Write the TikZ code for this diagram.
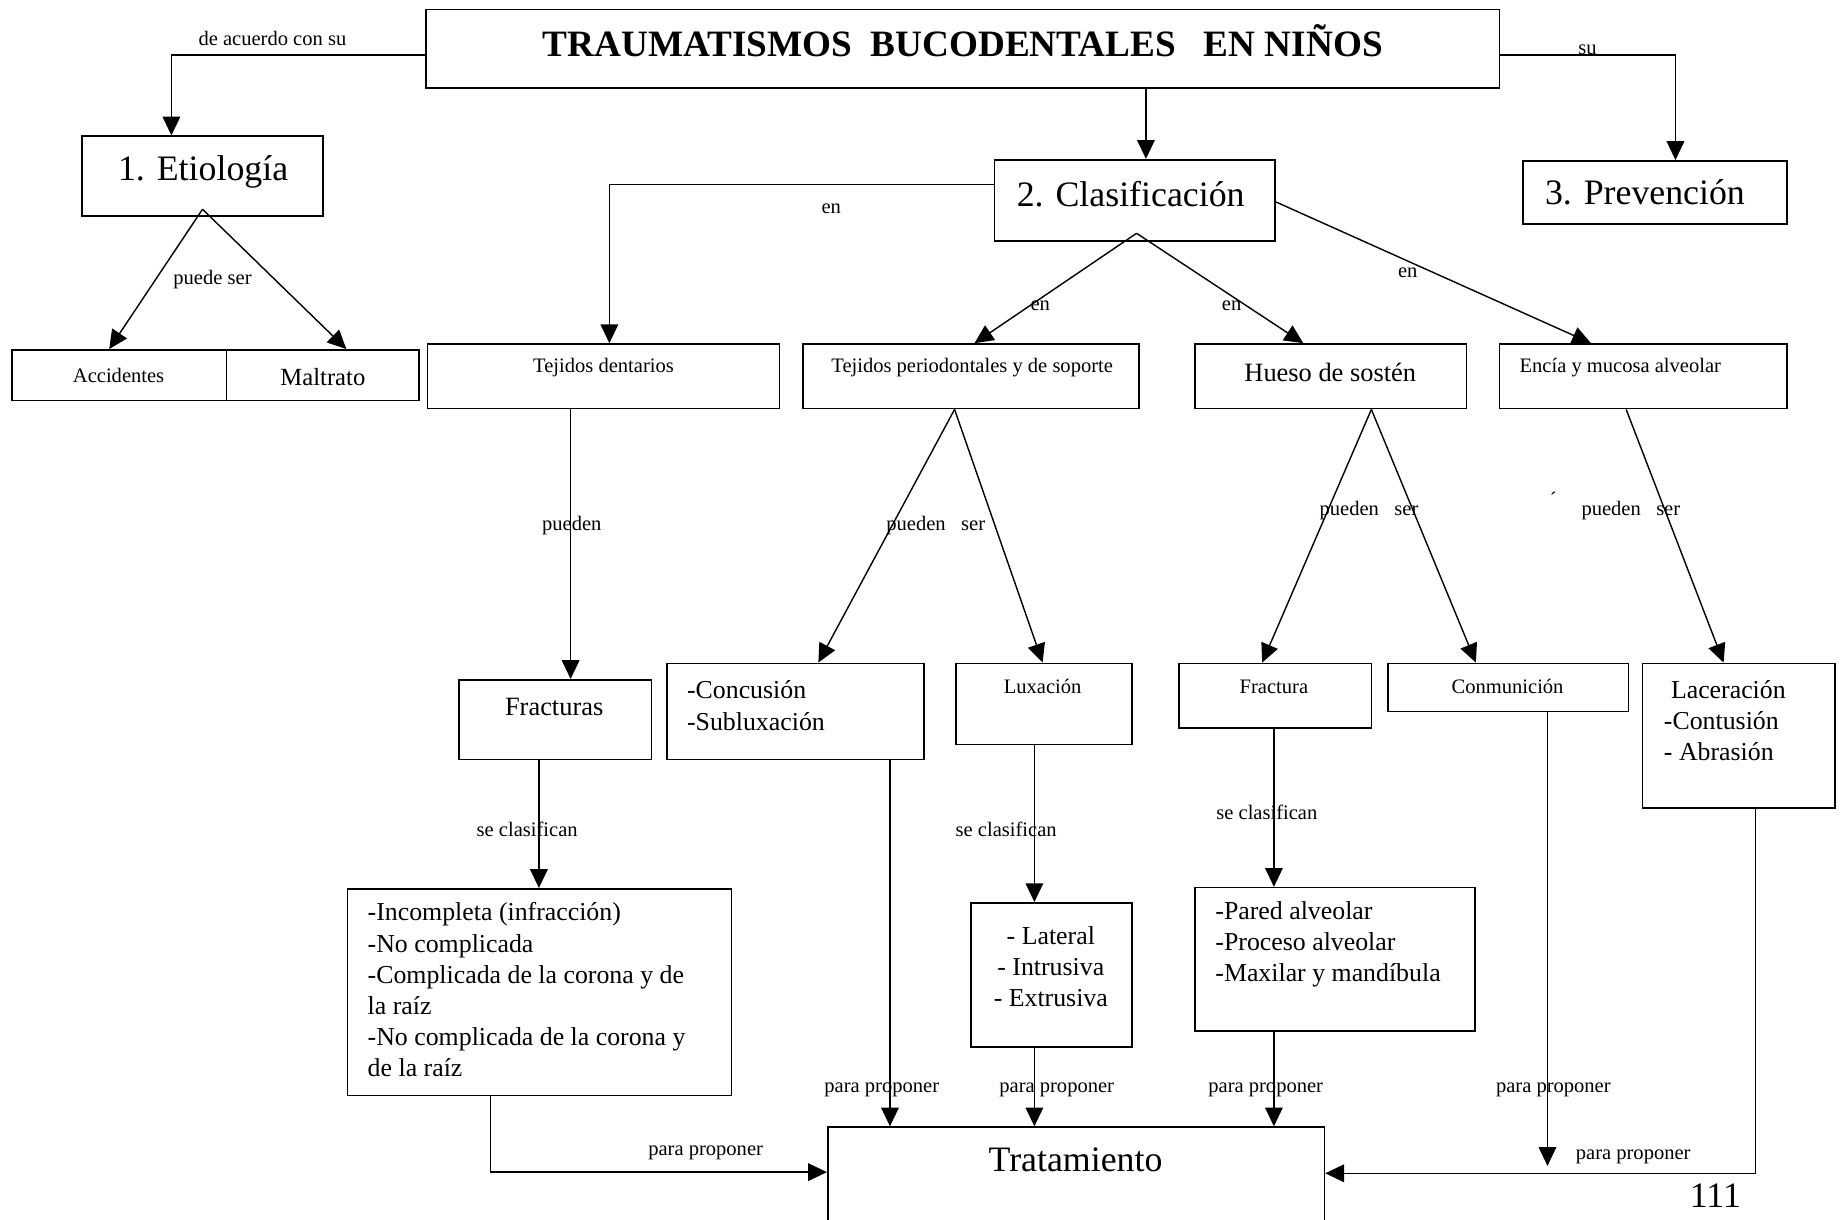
\documentclass[tikz,border=0pt]{standalone}
\usepackage{fontspec}
\setmainfont{Liberation Serif}
\usetikzlibrary{arrows.meta,fit,calc}
\begin{document}
\begin{tikzpicture}[x=1pt,y=-1pt,
  box/.style={draw,line width=1.4pt,inner sep=0pt},
  arr/.style={line width=1.2pt,-{Triangle[length=16pt,width=15pt]}},
  lbl/.style={inner sep=0pt,font=\fontsize{17.5}{20}\selectfont},
  txt/.style={inner sep=0pt,font=\fontsize{22}{26.5}\selectfont,align=left},
  big/.style={inner sep=0pt,font=\fontsize{30.5}{34}\selectfont}]
\useasboundingbox (0,0) rectangle (1568,1039);
\fill[white] (0,0) rectangle (1568,1039);

% boxes
\node[box,fit={(363,8)(1277,75)}] (title) {};
\node[box,fit={(70,116)(275,184)}] (etio) {};
\node[box,fit={(847,136)(1086,205)}] (clas) {};
\node[box,fit={(1297,137)(1522,191)}] (prev) {};
\node[box,fit={(10,298)(193,341)}] (acc) {};
\node[box,fit={(193,298)(357,341)}] (mal) {};
\node[box,fit={(364,293)(664,348)}] (tden) {};
\node[box,fit={(684,293)(970,348)}] (tper) {};
\node[box,fit={(1018,293)(1249,348)}] (hueso) {};
\node[box,fit={(1277,293)(1522,348)}] (encia) {};
\node[box,fit={(391,579)(555,647)}] (fracs) {};
\node[box,fit={(568,565)(787,647)}] (conc) {};
\node[box,fit={(814,565)(964,634)}] (lux) {};
\node[box,fit={(1004,565)(1168,620)}] (frac) {};
\node[box,fit={(1182,565)(1387,606)}] (conm) {};
\node[box,fit={(1399,565)(1563,688)}] (lace) {};
\node[box,fit={(296,757)(623,933)}] (inc) {};
\node[box,fit={(827,769)(964,892)}] (lat) {};
\node[box,fit={(1018,756)(1256,878)}] (pared) {};
\node[box,fit={(705,960)(1128,1060)}] (trat) {};

% box texts
\node[inner sep=0pt,font=\bfseries\fontsize{31.7}{34}\selectfont] (ttitle) at (820,35) {TRAUMATISMOS\ \ BUCODENTALES\ \ \ EN NIÑOS};
\node[big] (tetio) at (173,146) {1. Etiología};
\node[big] (tclas) at (963,165) {2. Clasificación};
\node[big] (tprev) at (1401,164) {3. Prevención};
\node[lbl] (tacc) at (101,320) {Accidentes};
\node[inner sep=0pt,font=\fontsize{21}{24}\selectfont] (tmal) at (275,321) {Maltrato};
\node[lbl] (ttden) at (514,313) {Tejidos dentarios};
\node[lbl] (ttper) at (828,313) {Tejidos periodontales y de soporte};
\node[inner sep=0pt,font=\fontsize{22.5}{26}\selectfont] (thueso) at (1133,317) {Hueso de sostén};
\node[lbl] (tencia) at (1380,313) {Encía y mucosa alveolar};
\node[txt,font=\fontsize{22.5}{26.5}\selectfont] (tfracs) at (472,602) {Fracturas};
\node[txt,anchor=west] (tconc) at (585,601) {-Concusión\\-Subluxación};
\node[lbl] (tlux) at (888,585) {Luxación};
\node[lbl] (tfrac) at (1085,585) {Fractura};
\node[lbl] (tconm) at (1284,585) {Conmunición};
\node[txt,anchor=west] (tlace) at (1417,614) {\hspace{6pt}Laceración\\-Contusión\\- Abrasión};
\node[txt,anchor=west] (tinc) at (313,843) {-Incompleta (infracción)\\-No complicada\\-Complicada de la corona y de\\la raíz\\-No complicada de la corona y\\de la raíz};
\node[txt,align=center] (tlat) at (895,823) {- Lateral\\- Intrusiva\\- Extrusiva};
\node[txt,anchor=west] (tpared) at (1035,804) {-Pared alveolar\\-Proceso alveolar\\-Maxilar y mandíbula};
\node[big] (ttrat) at (916,988) {Tratamiento};
\node[big] (tpage) at (1461,1018) {111};

% connectors
\draw[arr] ([yshift=-5.5pt]title.west) -| (etio.north -| 146,0);
\draw[arr] ([yshift=-5.5pt]title.east) -| (prev.north -| 1427,0);
\draw[arr] (title.south -| 976,0) -- (clas.north -| 976,0);

\coordinate (etiApex) at ([yshift=6.5pt]etio.south);
\draw[arr] (etiApex) -- (acc.north -| 93,0);
\draw[arr] (etiApex) -- (mal.north -| 295,0);

\draw[arr] ([yshift=13.5pt]clas.west) -| (tden.north -| 519,0);
\coordinate (clasApex) at ($(clas.south)+(1.5,-7)$);
\draw[arr] (clasApex) -- (tper.north -| 830,0);
\draw[arr] (clasApex) -- (hueso.north -| 1110,0);
\draw[arr] ($(clas.east)+(0,1.5)$) -- (encia.north -| 1355,0);

\draw[arr] (tden.south -| 486,0) -- (fracs.north -| 486,0);
\draw[arr] (tper.south -| 813,0) -- (conc.north -| 697,0);
\draw[arr] (tper.south -| 813,0) -- (lux.north -| 888,0);
\draw[arr] (hueso.south -| 1168,0) -- (frac.north -| 1075,0);
\draw[arr] (hueso.south -| 1168,0) -- (conm.north -| 1257,0);
\draw[arr] (encia.south -| 1385,0) -- (lace.north -| 1468,0);

\draw[arr] (fracs.south -| 459,0) -- (inc.north -| 459,0);
\draw[arr] (lux.south -| 881,0) -- (lat.north -| 881,0);
\draw[arr] (frac.south -| 1085,0) -- (pared.north -| 1085,0);

\draw[arr] (conc.south -| 758,0) -- (trat.north -| 758,0);
\draw[arr] (lat.south -| 881,0) -- (trat.north -| 881,0);
\draw[arr] (pared.south -| 1085,0) -- (trat.north -| 1085,0);
\draw[arr] (inc.south -| 418,0) |- ($(trat.north west)+(0,39)$);
\draw[arr] (lace.south -| 1495,0) |- ($(trat.north east)+(0,40)$);
\coordinate (conmEnd) at (1318,993);
\draw[arr] (conm.south -| 1318,0) -- (conmEnd);

% connector labels
\node[lbl] (l1) at (232,33) {de acuerdo con su};
\node[lbl] (l2) at (1352,42) {su};
\node[lbl] (l3) at (181,238) {puede ser};
\node[lbl] (l4) at (708,178) {en};
\node[lbl] (l5) at (886,260) {en};
\node[lbl] (l6) at (1049,260) {en};
\node[lbl] (l7) at (1199,232) {en};
\node[lbl] (l8) at (487,448) {pueden};
\node[lbl] (l9) at (797,448) {pueden\ \ \ ser};
\node[lbl] (l10) at (1166,435) {pueden\ \ \ ser};
\node[lbl] (l11) at (1323,425) {´};
\node[lbl] (l12) at (1389,435) {pueden\ \ \ ser};
\node[lbl] (l13) at (449,706) {se clasifican};
\node[lbl] (l14) at (857,706) {se clasifican};
\node[lbl] (l15) at (1079,692) {se clasifican};
\node[lbl] (l16) at (751,928) {para proponer};
\node[lbl] (l17) at (900,928) {para proponer};
\node[lbl] (l18) at (1078,928) {para proponer};
\node[lbl] (l19) at (1323,928) {para proponer};
\node[lbl] (l20) at (601,982) {para proponer};
\node[lbl] (l21) at (1391,985) {para proponer};
\end{tikzpicture}
\end{document}
